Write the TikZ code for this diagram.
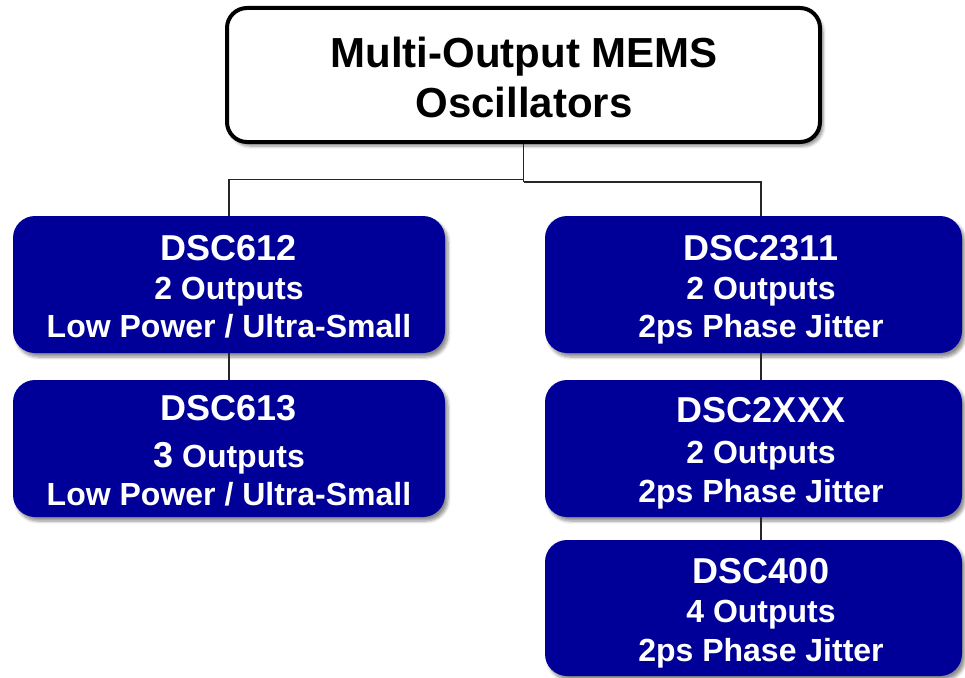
\documentclass[tikz,border=0pt]{standalone}
\usepackage{fontspec}
\setmainfont{Liberation Sans}
\usetikzlibrary{shadows.blur}
\definecolor{boxblue}{RGB}{0,0,153}
\tikzset{
  sh/.style={blur shadow={shadow xshift=3pt, shadow yshift=-4pt, shadow blur steps=6, shadow blur radius=3pt, shadow opacity=45}},
  topbox/.style={draw=black, line width=4pt, fill=white, rounded corners=20pt, sh, inner sep=0pt},
  bluebox/.style={fill=boxblue, rounded corners=22pt, sh, inner sep=0pt, minimum height=137pt},
  leftbox/.style={bluebox, minimum width=432pt},
  rightbox/.style={bluebox, minimum width=417pt},
  ttl/.style={anchor=base, inner sep=0pt, font=\bfseries\fontsize{42}{48}\selectfont},
  big/.style={anchor=base, inner sep=0pt, text=white, font=\bfseries\fontsize{36}{40}\selectfont},
  small/.style={anchor=base, inner sep=0pt, text=white, font=\bfseries\fontsize{32}{36}\selectfont},
  conn/.style={draw=black!85, line width=1.6pt}
}
\begin{document}
\begin{tikzpicture}[x=1pt,y=-1pt]
\useasboundingbox (0,0) rectangle (965,677);
% boxes
\node[topbox, minimum width=593pt, minimum height=134pt] (top) at (523.5,75) {};
\node[leftbox] (l1) at (229,284.5) {};
\node[leftbox] (l2) at (229,448.5) {};
\node[rightbox] (r1) at (753.5,284.5) {};
\node[rightbox] (r2) at (753.5,448.5) {};
\node[rightbox, minimum height=136pt] (r3) at (753.5,608) {};
% connectors
\coordinate (jl) at (523.5,179.5);
\coordinate (jr) at (523.5,182);
\coordinate (cl) at (229,0);
\coordinate (cr) at (761,0);
\draw[conn] (top.south) -- (jr);
\draw[conn] (jl) -- (jl -| cl) -- (cl |- l1.north);
\draw[conn] (jr) -- (jr -| cr) -- (cr |- r1.north);
\draw[conn] (cl |- l1.south) -- (cl |- l2.north);
\draw[conn] (cr |- r1.south) -- (cr |- r2.north);
\draw[conn] (cr |- r2.south) -- (cr |- r3.north);
% title
\node[ttl] (t1) at (524,67) {Multi-Output MEMS};
\node[ttl] (t2) at (524,117) {Oscillators};
% left
\node[big] (l1a) at (229,260) {DSC612};
\node[small] (l1b) at (229,299) {2 Outputs};
\node[small] (l1c) at (229,337) {Low Power / Ultra-Small};
\node[big] (l2a) at (229,420) {DSC613};
\node[small] (l2b) at (229,467) {{\fontsize{36}{40}\selectfont 3} Outputs};
\node[small] (l2c) at (229,505) {Low Power / Ultra-Small};
% right
\node[big] (r1a) at (761,260) {DSC2311};
\node[small] (r1b) at (761,299) {2 Outputs};
\node[small] (r1c) at (761,337) {2ps Phase Jitter};
\node[big] (r2a) at (761,422) {DSC2XXX};
\node[small] (r2b) at (761,463) {2 Outputs};
\node[small] (r2c) at (761,502) {2ps Phase Jitter};
\node[big] (r3a) at (761,583) {DSC400};
\node[small] (r3b) at (761,622) {4 Outputs};
\node[small] (r3c) at (761,661) {2ps Phase Jitter};
\end{tikzpicture}
\end{document}
